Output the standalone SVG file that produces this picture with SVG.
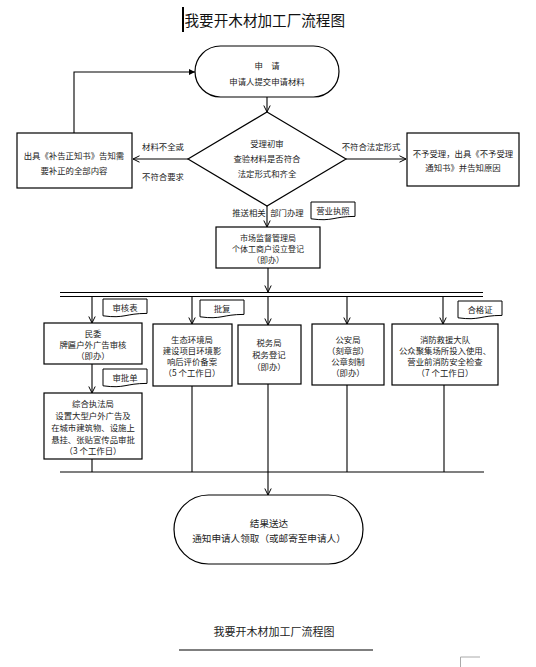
<svg xmlns="http://www.w3.org/2000/svg" width="536" height="667" viewBox="0 0 536 667">
<style>
text{font-family:"Noto Sans CJK SC","Noto Sans",sans-serif;fill:#222;font-size:8.4px;text-anchor:middle;dominant-baseline:central}
.box{fill:#fff;stroke:#000;stroke-width:1.2}
.ln{fill:none;stroke:#000;stroke-width:1.1}
.doc{fill:#fff;stroke:#000;stroke-width:1}
.big{font-size:9.6px}
.sm{font-size:8px}
</style>
<defs>
<marker id="open" viewBox="0 0 8 8" refX="7.5" refY="4" markerWidth="8" markerHeight="8" orient="auto" markerUnits="userSpaceOnUse">
<path d="M1,0.8 L7.5,4 L1,7.2" fill="none" stroke="#000" stroke-width="1"/>
</marker>
<marker id="solid" viewBox="0 0 6 6" refX="6" refY="3" markerWidth="6" markerHeight="6" orient="auto" markerUnits="userSpaceOnUse">
<path d="M0,0 L6,3 L0,6 Z" fill="#000"/>
</marker>
<path id="docshape" class="doc" d="M0,0 H44 V14.4 C22,14.4 22,19.8 0,16.8 Z"/>
</defs>
<rect width="536" height="667" fill="#fff"/>

<g id="title">
<rect x="182" y="7" width="2" height="25" fill="#000"/>
<text x="184.5" y="19" style="font-size:14.6px;fill:#111;text-anchor:start">我要开木材加工厂流程图</text>
</g>

<g id="connectors">
<path class="ln" d="M74,133 V72 H195" marker-end="url(#solid)"/>
<path class="ln" d="M267,97 V112" marker-end="url(#open)"/>
<path class="ln" d="M188,159 H133" marker-end="url(#open)"/>
<path class="ln" d="M346,159 H406" stroke-width="1.6" marker-end="url(#open)"/>
<path class="ln" d="M267,206 V227" marker-end="url(#open)"/>
<path class="ln" d="M268,268 V292" marker-end="url(#open)"/>
<path class="ln" d="M60,292.5 H483 M60,296.5 H483"/>
<path class="ln" d="M92,297 V323" marker-end="url(#open)"/>
<path class="ln" d="M192,297 V324" marker-end="url(#open)"/>
<path class="ln" d="M268,297 V325" marker-end="url(#open)"/>
<path class="ln" d="M347,297 V324" marker-end="url(#open)"/>
<path class="ln" d="M443,297 V324" marker-end="url(#open)"/>
<path class="ln" d="M92,364 V393" marker-end="url(#open)"/>
<path class="ln" d="M92,459 V472 M192,386 V472 M347,385 V472 M444,385 V472 M60,472 H484"/>
<path class="ln" d="M268,384 V495" stroke="#555" marker-end="url(#open)"/>
</g>

<g id="n-apply">
<rect class="box" x="195" y="46" width="144" height="51" rx="25.5"/>
<text x="267" y="65">申　请</text>
<text x="267" y="81">申请人提交申请材料</text>
</g>

<g id="n-review">
<polygon class="box" points="267,112 346,159 267,206 188,159"/>
<text x="267" y="143">受理初审</text>
<text x="267" y="158">查验材料是否符合</text>
<text x="267" y="173">法定形式和齐全</text>
</g>

<g id="n-supplement">
<rect class="box" x="17" y="133" width="115" height="55"/>
<text x="74" y="155">出具《补告正知书》告知需</text>
<text x="74" y="170">要补正的全部内容</text>
</g>

<g id="n-reject">
<rect class="box" x="407" y="133" width="112" height="53"/>
<text x="463" y="153">不予受理，出具《不予受理</text>
<text x="463" y="167">通知书》并告知原因</text>
</g>

<g id="edge-labels">
<text x="163" y="146">材料不全或</text>
<text x="163" y="176">不符合要求</text>
<text x="371" y="146">不符合法定形式</text>
<text x="249" y="212">推送相关</text>
<text x="287" y="212">部门办理</text>
</g>

<g id="n-license">
<use href="#docshape" x="311" y="202"/>
<text x="333" y="210">营业执照</text>
</g>

<g id="n-market">
<rect class="box" x="216" y="227" width="104" height="41"/>
<text class="sm" x="268" y="237">市场监督管理局</text>
<text class="sm" x="268" y="248">个体工商户设立登记</text>
<text class="sm" x="268" y="259">（即办）</text>
</g>

<g id="n-minwei">
<rect class="box" x="44" y="323" width="98" height="41"/>
<text x="93" y="333">民委</text>
<text x="93" y="344">牌匾户外广告审核</text>
<text x="93" y="355">（即办）</text>
</g>

<g id="n-doc-shenhe">
<use href="#docshape" x="103" y="299"/>
<text x="125" y="307">审核表</text>
</g>

<g id="n-eco">
<rect class="box" x="153" y="324" width="79" height="62"/>
<text x="192" y="339">生态环境局</text>
<text x="192" y="350">建设项目环境影</text>
<text x="192" y="361">响后评价备案</text>
<text x="192" y="372">（5 个工作日）</text>
</g>

<g id="n-doc-pifu">
<use href="#docshape" x="200" y="300"/>
<text x="222" y="308">批复</text>
</g>

<g id="n-tax">
<rect class="box" x="238" y="325" width="63" height="59"/>
<text x="269" y="342">税务局</text>
<text x="269" y="354">税务登记</text>
<text x="269" y="366">（即办）</text>
</g>

<g id="n-police">
<rect class="box" x="312" y="324" width="72" height="61"/>
<text x="348" y="339">公安局</text>
<text x="348" y="350">（刻章部）</text>
<text x="348" y="361">公章刻制</text>
<text x="348" y="372">（即办）</text>
</g>

<g id="n-fire">
<rect class="box" x="392" y="324" width="106" height="61"/>
<text x="445" y="339">消防救援大队</text>
<text x="445" y="350">公众聚集场所投入使用、</text>
<text x="445" y="361">营业前消防安全检查</text>
<text x="445" y="372">（7 个工作日）</text>
</g>

<g id="n-doc-hege">
<use href="#docshape" x="458" y="301"/>
<text x="480" y="309">合格证</text>
</g>

<g id="n-doc-shenpi">
<use href="#docshape" x="103" y="369"/>
<text x="125" y="377">审批单</text>
</g>

<g id="n-law">
<rect class="box" x="44" y="393" width="98" height="66"/>
<text x="93" y="403">综合执法局</text>
<text x="93" y="415">设置大型户外广告及</text>
<text x="93" y="427">在城市建筑物、设施上</text>
<text x="93" y="439">悬挂、张贴宣传品审批</text>
<text x="93" y="450">（3 个工作日）</text>
</g>

<g id="n-result">
<rect class="box" x="174" y="495" width="189" height="69" rx="34.5"/>
<text class="big" x="269" y="523">结果送达</text>
<text class="big" x="269" y="538">通知申请人领取（或邮寄至申请人）</text>
</g>

<g id="footer">
<text x="274" y="631" style="font-size:11px">我要开木材加工厂流程图</text>
<line x1="179" y1="650" x2="373" y2="650" stroke="#000" stroke-width="1.2"/>
<path d="M480,657 H460.5 V667" fill="none" stroke="#aaa" stroke-width="1"/>
</g>
</svg>
